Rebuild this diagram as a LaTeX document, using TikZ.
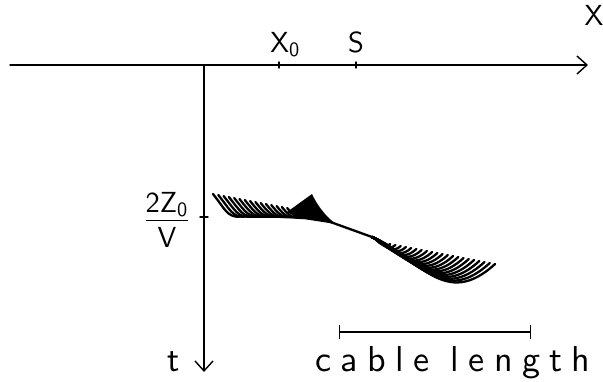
\documentclass[tikz,border=0pt]{standalone}
\usepackage{fontspec}
\usetikzlibrary{arrows.meta,calc}
\newfontfamily\cablefont{lmsans10-regular.otf}[LetterSpace=26]
\begin{document}
\begin{tikzpicture}[x=0.5pt,y=-0.5pt,line cap=round,line join=round,
 axis/.style={line width=0.7pt},
 barb/.style={-{Straight Barb[length=5pt,width=9pt,line width=0.7pt]}},
 trace/.style={line width=1.15pt},
 lbl/.style={font=\sffamily\fontsize{14.5}{14.5}\selectfont,inner sep=0pt},
 tlbl/.style={font=\sffamily\fontsize{18}{18}\selectfont,inner sep=0pt},
 txt/.style={font=\cablefont\fontsize{18}{18}\selectfont,inner sep=0pt}]
 \useasboundingbox (0,0) rectangle (603,381);
 % axes
 \coordinate (xstart) at (10,65);
 \coordinate (xend) at (588,65);
 \coordinate (o) at (204,65);
 \coordinate (tend) at (204,372);
 \coordinate (x0) at (279,65);
 \coordinate (s) at (356,65);
 \coordinate (tz) at (204,217);
 \draw[axis,barb] (xstart) -- (xend);
 \draw[axis,barb] (o) -- (tend);
 \foreach \p in {x0,s}
  \draw[axis] (\p) ++(0,-3) -- ++(0,6);
 \draw[axis] (tz) ++(-4,0) -- ++(8,0);
 \node[lbl] (xlab) at (594,15) {X};
 \node[lbl,anchor=base west] (x0lab) at (270,52) {X\textsubscript{0}};
 \node[lbl,anchor=base] (slab) at (356,52) {S};
 \node[tlbl,anchor=base] (tlab) at (174,371) {t};
 \node[lbl,align=center] (frac) at (167,220) {\underline{2Z\textsubscript{0}}\\[3pt]V};
 % cable
 \coordinate (cl) at (339,332);
 \coordinate (cr) at (531,332);
 \draw[axis,{Bar[width=7pt]}-{Bar[width=7pt]}] (cl) -- (cr);
 \node[txt,anchor=base] (cable) at (453,371) {cable length};
 % traces
 \coordinate (q) at (336,224);
 \coordinate (p) at (372,237);
 \draw[trace] (236,216.5) -- (300,217) .. controls (318,217.5) and (325,220) .. (q) -- (p);
 \fill (287,212) -- (312,194) .. controls (317,205) and (326,217) .. (q) -- (300,218.5) -- cycle;
 \foreach \k in {0,...,14}
  \draw[trace] (213+5.3*\k,194+\k) .. controls +(12,15) and +(-12,0) .. (239+5.3*\k,216.8);
 \foreach \k in {0,...,21}{
  \pgfmathsetmacro\t{\k/21}
  \draw[trace] (p) .. controls (378+42*\t,239.5+18.5*\t) and (380+65*\t,247+63*\t) .. (385+110*\t,243+21*\t);
 }
\end{tikzpicture}
\end{document}
